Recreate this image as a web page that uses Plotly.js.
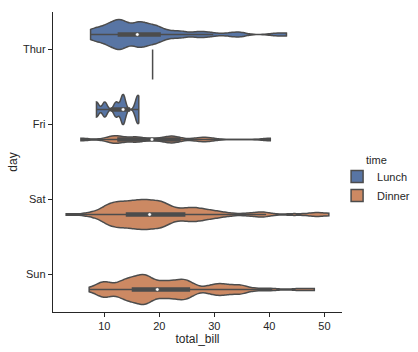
<!DOCTYPE html>
<html><head><meta charset="utf-8">
<script src="https://cdn.plot.ly/plotly-3.0.1.min.js"></script>
<style>html,body{margin:0;padding:0;background:#fff}</style>
</head><body><div id="chart" style="width:418px;height:352px"></div>
<script>
const days = ['Thur', 'Fri', 'Sat', 'Sun'];
const times = ['Lunch', 'Dinner'];

// total_bill values by day / time
const thurLunch = [27.20, 22.76, 17.29, 19.44, 16.66, 10.07, 32.68, 15.98, 34.83, 13.03, 18.28, 24.71, 21.16,
  10.65, 12.43, 24.08, 11.69, 13.42, 14.26, 15.95, 12.48, 29.80, 8.52, 14.52, 11.38, 22.82, 19.08, 20.27,
  11.17, 12.26, 18.26, 8.51, 10.33, 14.15, 16.00, 13.16, 17.47, 34.30, 41.19, 27.05, 16.43, 8.35, 18.64,
  11.87, 9.78, 7.51,
  19.81, 28.44, 15.48, 16.58, 7.56, 10.34, 43.11, 13.00, 13.51, 18.71, 12.74, 13.00, 16.40, 20.53, 16.47];
const thurDinner = [18.78];
const friLunch = [12.16, 13.42, 8.58, 15.98, 13.42, 16.27, 10.09];
const friDinner = [28.97, 22.49, 5.75, 16.32, 22.75, 40.17, 27.28, 12.03, 21.01, 12.46, 11.35, 15.38];
const satDinner = [20.65, 17.92, 20.29, 15.77, 39.42, 19.82, 17.81, 13.37, 12.69, 21.70, 19.65, 9.55, 18.35,
  15.06, 20.69, 17.78, 24.06, 16.31, 16.93, 18.69, 31.27, 16.04,
  38.01, 26.41, 11.24, 48.27, 20.29, 13.81, 11.02, 18.29, 17.59, 20.08, 16.45, 3.07, 20.23, 15.01, 12.02,
  17.07, 26.86, 25.28, 14.73, 10.51, 17.92,
  44.30, 22.42, 20.92, 15.36, 20.49, 25.21, 18.24, 14.31, 14.00, 7.25,
  10.59, 10.63, 50.81, 15.81,
  26.59, 38.73, 24.27, 12.76, 30.06, 25.89, 48.33, 13.27, 28.17, 12.90, 28.15, 11.59, 7.74, 30.14,
  20.45, 13.28, 22.12, 24.01, 15.69, 11.61, 10.77, 15.53, 10.07, 12.60, 32.83, 35.83, 29.03, 27.18, 22.67, 17.82];
const sunDinner = [16.99, 10.34, 21.01, 23.68, 24.59, 25.29, 8.77, 26.88, 15.04, 14.78, 10.27, 35.26, 15.42,
  18.43, 14.83, 21.58, 10.33, 16.29, 16.97,
  17.46, 13.94, 9.68, 30.40, 18.29, 22.23, 32.40, 28.55, 18.04, 12.54, 10.29, 34.81, 9.94, 25.56, 19.49,
  38.07, 23.95, 25.71, 17.31, 29.93,
  14.07, 13.13, 17.26, 24.55, 19.77, 29.85, 48.17, 25.00, 13.39, 16.49, 21.50, 12.66, 16.21, 13.81, 17.51,
  24.52, 20.76, 31.71,
  7.25, 31.85, 16.82, 32.90, 17.89, 14.48, 9.60, 34.63, 34.65, 23.33, 45.35, 23.17, 40.55, 20.69, 20.90,
  30.46, 18.15, 23.10, 15.69];

const groups = [
  {day: 0, time: 'Lunch', vals: thurLunch},
  {day: 0, time: 'Dinner', vals: thurDinner},
  {day: 1, time: 'Lunch', vals: friLunch},
  {day: 1, time: 'Dinner', vals: friDinner},
  {day: 2, time: 'Dinner', vals: satDinner},
  {day: 3, time: 'Dinner', vals: sunDinner}
];

const colors = {Lunch: '#5875a4', Dinner: '#cc8963'};
const gray = '#4c4c4c';
const txt = '#262626';
const FONT = 'Liberation Sans, Arial, sans-serif';

function pct(sorted, p) {
  const idx = p * (sorted.length - 1);
  const lo = Math.floor(idx), hi = Math.ceil(idx);
  return sorted[lo] + (sorted[hi] - sorted[lo]) * (idx - lo);
}
function sd(a) {
  const m = a.reduce((s, v) => s + v, 0) / a.length;
  return Math.sqrt(a.reduce((s, v) => s + (v - m) * (v - m), 0) / (a.length - 1));
}

const traces = [];
const overlay = [];
const shown = {};
groups.forEach(g => {
  const pos = g.day + (g.time === 'Lunch' ? -0.2 : 0.2);
  if (g.vals.length === 1) {
    overlay.push({type: 'scatter', mode: 'lines', x: [g.vals[0], g.vals[0]], y: [pos - 0.2, pos + 0.2],
      line: {color: gray, width: 1.5}, showlegend: false, hoverinfo: 'skip'});
    return;
  }
  traces.push({
    type: 'violin', orientation: 'h', x: g.vals, y0: pos, name: g.time,
    legendgroup: g.time, showlegend: !shown[g.time],
    scalemode: 'width', scalegroup: days[g.day], spanmode: 'hard',
    bandwidth: 0.15 * sd(g.vals),
    points: false, box: {visible: false}, meanline: {visible: false},
    fillcolor: colors[g.time], line: {color: gray, width: 1.5}, opacity: 1, hoverinfo: 'skip'
  });
  shown[g.time] = true;
  const s = g.vals.slice().sort((a, b) => a - b);
  const q1 = pct(s, 0.25), q2 = pct(s, 0.5), q3 = pct(s, 0.75);
  const iqr = q3 - q1;
  const h1 = Math.min(...s.filter(v => v >= q1 - 1.5 * iqr));
  const h2 = Math.max(...s.filter(v => v <= q3 + 1.5 * iqr));
  overlay.push({type: 'scatter', mode: 'lines', x: [h1, h2], y: [pos, pos],
    line: {color: gray, width: 1.5}, showlegend: false, hoverinfo: 'skip'});
  overlay.push({type: 'scatter', mode: 'lines', x: [q1, q3], y: [pos, pos],
    line: {color: gray, width: 4.5}, showlegend: false, hoverinfo: 'skip'});
  overlay.push({type: 'scatter', mode: 'markers', x: [q2], y: [pos],
    marker: {color: 'white', size: 3.5, line: {color: gray, width: 0.5}}, showlegend: false, hoverinfo: 'skip'});
});

const layout = {
  width: 418, height: 352,
  margin: {l: 53, r: 76, t: 12, b: 40, autoexpand: false},
  paper_bgcolor: '#fff', plot_bgcolor: '#fff',
  font: {family: FONT, size: 11, color: txt},
  violinmode: 'overlay', violingap: 0, violingroupgap: 0,
  showlegend: true,
  xaxis: {
    range: [0.68, 53.2], tickvals: [10, 20, 30, 40, 50], ticks: 'outside', ticklen: 4, tickwidth: 1.25,
    tickcolor: txt, showline: true, linecolor: txt, linewidth: 1.25, showgrid: false, zeroline: false,
    tickfont: {size: 11, color: txt},
    title: {text: 'total_bill', font: {size: 12, color: txt}, standoff: 3}
  },
  yaxis: {
    type: 'linear', range: [3.5, -0.5], tickvals: [0, 1, 2, 3], ticktext: days,
    ticks: 'outside', ticklen: 4, tickwidth: 1.25, tickcolor: txt, showline: true, linecolor: txt,
    linewidth: 1.25, showgrid: false, zeroline: false, tickfont: {size: 11, color: txt},
    title: {text: 'day', font: {size: 12, color: txt}, standoff: 2}
  },
  legend: {
    x: 0.983, xanchor: 'left', y: 0.5, yanchor: 'top',
    font: {size: 11, color: txt}, bgcolor: 'rgba(0,0,0,0)', traceorder: 'normal'
  },
  annotations: [{
    text: 'time', xref: 'paper', yref: 'paper', x: 1.119, y: 0.507, xanchor: 'center', yanchor: 'middle',
    showarrow: false, font: {size: 11, color: txt}
  }]
};

Plotly.newPlot('chart', traces.concat(overlay), layout, {displayModeBar: false, staticPlot: true});
</script>
</body></html>
